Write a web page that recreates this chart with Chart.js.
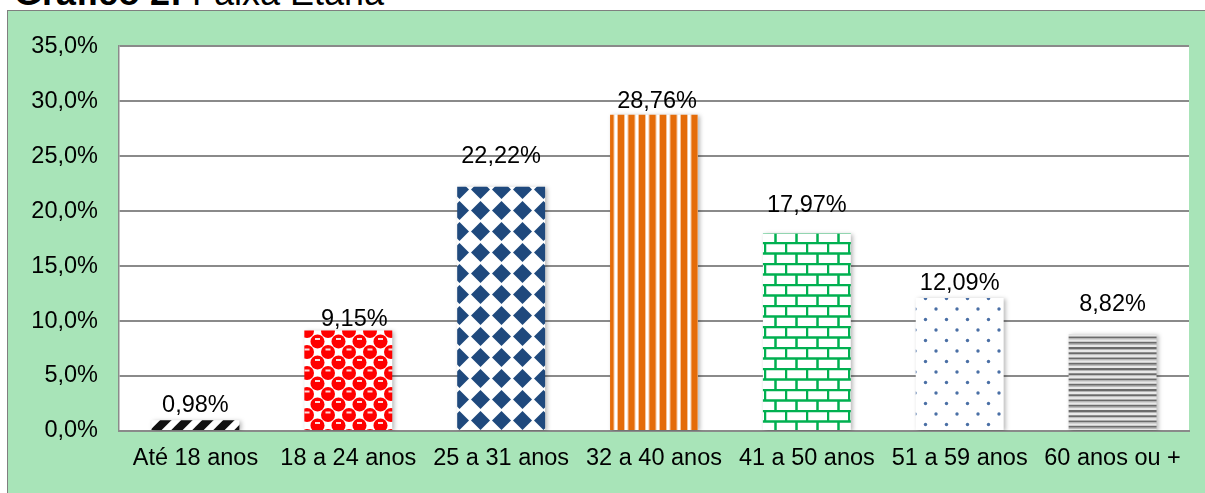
<!DOCTYPE html>
<html>
<head>
<meta charset="utf-8">
<script src="https://cdn.jsdelivr.net/npm/chart.js@4"></script>
<style>
  body { margin: 0; background: #fff; width: 1205px; height: 493px; overflow: hidden; position: relative; font-family: "Liberation Sans", Arial, sans-serif; }
  #title { position: absolute; left: 14px; top: -25px; font-size: 36px; line-height: 36px; color: #000; white-space: nowrap; }
  #title b { font-weight: bold; }
  #box { position: absolute; left: 7px; top: 10px; width: 1200px; height: 484px; background: #a8e4b8; border-left: 1px solid #7f7f7f; border-top: 1px solid #7f7f7f; }
  #chart { position: absolute; left: 0; top: 0; }
</style>
</head>
<body>
<div id="title"><b>Gráfico 2:</b> Faixa Etária</div>
<div id="box"><canvas id="chart" width="1198" height="483"></canvas></div>
<script>
// faixa etária (%)
const categories = ['Até 18 anos', '18 a 24 anos', '25 a 31 anos', '32 a 40 anos', '41 a 50 anos', '51 a 59 anos', '60 anos ou +'];
const values = [0.98, 9.15, 22.22, 28.76, 17.97, 12.09, 8.82];
const yTicks = [0, 5, 10, 15, 20, 25, 30, 35];

// little offscreen tiles for the excel-like fills
function tile(w, h, draw) {
    const c = document.createElement('canvas');
    c.width = w; c.height = h;
    const g = c.getContext('2d');
    g.fillStyle = '#fff';
    g.fillRect(0, 0, w, h);
    draw(g);
    return c;
}

function makePatterns(ctx) {
    const T = 21;
    const stripes = tile(T, T, g => {
        g.strokeStyle = '#111';
        g.lineWidth = 8;
        for (let k = -1; k <= 1; k++) {
            g.beginPath();
            g.moveTo(-5 + k * T, T + 5);
            g.lineTo(T + 5 + k * T, -5);
            g.stroke();
        }
    });
    const spheres = tile(T, T, g => {
        const pts = [];
        [[5, 5], [15.5, 15.5]].forEach(([x, y]) => {
            for (let i = -1; i <= 1; i++) for (let j = -1; j <= 1; j++) pts.push([x + i * T, y + j * T]);
        });
        pts.forEach(([x, y]) => {
            g.fillStyle = '#ff0000';
            g.beginPath(); g.arc(x, y, 7, 0, Math.PI * 2); g.fill();
        });
        pts.forEach(([x, y]) => {
            g.fillStyle = 'rgba(255,255,255,0.85)';
            g.fillRect(x - 2.5, y - 3.5, 5, 2);
        });
    });
    const diamonds = tile(T, T, g => {
        g.fillStyle = '#1f497d';
        g.beginPath();
        g.moveTo(10.5, 1); g.lineTo(20, 10.5); g.lineTo(10.5, 20); g.lineTo(1, 10.5);
        g.closePath(); g.fill();
    });
    const vlines = tile(T, 4, g => {
        g.fillStyle = '#f6c49a';
        g.fillRect(0, 0, 8, 4); g.fillRect(10.5, 0, 8, 4);
        g.fillStyle = '#e46c0a';
        g.fillRect(1, 0, 6, 4); g.fillRect(11.5, 0, 6, 4);
    });
    const brick = tile(T, T, g => {
        g.strokeStyle = '#00b050';
        g.lineWidth = 2.5;
        g.beginPath();
        g.moveTo(0, 1); g.lineTo(T, 1);
        g.moveTo(0, 11.5); g.lineTo(T, 11.5);
        g.moveTo(1, 1); g.lineTo(1, 11.5);
        g.moveTo(11.5, 11.5); g.lineTo(11.5, T + 1);
        g.stroke();
    });
    const dots = tile(T, T, g => {
        g.fillStyle = '#4a6fa5';
        [[4, 4], [14.5, 14.5]].forEach(([x, y]) => {
            g.beginPath(); g.arc(x, y, 1.7, 0, Math.PI * 2); g.fill();
        });
    });
    const hlines = tile(4, T, g => {
        for (let k = 0; k < 4; k++) {
            const y = k * 5.25;
            g.fillStyle = '#6b6b6b'; g.fillRect(0, y, 4, 2);
            g.fillStyle = '#b5b5b5'; g.fillRect(0, y + 2, 4, 1.2);
            g.fillStyle = '#e8e8e8'; g.fillRect(0, y + 3.2, 4, 2.05);
        }
    });
    return [stripes, spheres, diamonds, vlines, brick, dots, hlines].map(c => ctx.createPattern(c, 'repeat'));
}

const pct = (v, d) => v.toFixed(d).replace('.', ',') + '%';

const plotBg = {
    id: 'plotBg',
    beforeDraw(chart) {
        const { ctx, chartArea: a } = chart;
        ctx.save();
        ctx.fillStyle = '#fff';
        ctx.fillRect(a.left, a.top, a.right - a.left, a.bottom - a.top);
        ctx.restore();
    }
};

const barShadow = {
    id: 'barShadow',
    beforeDatasetsDraw(chart) {
        const ctx = chart.ctx;
        ctx.save();
        ctx.shadowColor = 'rgba(0,0,0,0.28)';
        ctx.shadowBlur = 4;
        ctx.shadowOffsetX = 2;
        ctx.shadowOffsetY = 1;
    },
    afterDatasetsDraw(chart) {
        chart.ctx.restore();
    }
};

const valueLabels = {
    id: 'valueLabels',
    afterDraw(chart, args, opts) {
        const ctx = chart.ctx;
        const meta = chart.getDatasetMeta(0);
        ctx.save();
        ctx.font = '23.5px "Liberation Sans", Arial, sans-serif';
        ctx.fillStyle = '#000';
        ctx.textAlign = 'center';
        ctx.textBaseline = 'middle';
        meta.data.forEach((bar, i) => {
            ctx.fillText(pct(values[i], 2), bar.x + (opts.dx[i] || 0), bar.y - opts.lift[i]);
        });
        ctx.restore();
    }
};

const canvas = document.getElementById('chart');
const ctx = canvas.getContext('2d');
const font = { family: '"Liberation Sans", Arial, sans-serif', size: 23.5 };

new Chart(ctx, {
    type: 'bar',
    data: {
        labels: categories,
        datasets: [{
            data: values,
            backgroundColor: makePatterns(ctx),
            borderWidth: 0,
            categoryPercentage: 1,
            barPercentage: 0.575
        }]
    },
    options: {
        responsive: false,
        animation: false,
        layout: { padding: { top: 35, right: 17, left: 0, bottom: 0 } },
        plugins: {
            legend: { display: false },
            tooltip: { enabled: false },
            valueLabels: {
                lift: [15, 11, 30, 13, 28, 15, 29],
                dx: [0, 6, 0, 3, 0, 0, 0]
            }
        },
        scales: {
            x: {
                grid: { display: false, drawTicks: false },
                border: { display: true, color: '#8a8a8a', width: 2 },
                ticks: { font, color: '#000', padding: 13, maxRotation: 0, autoSkip: false },
                afterFit(scale) { scale.height = 63; }
            },
            y: {
                min: 0,
                max: 35,
                afterBuildTicks(scale) { scale.ticks = yTicks.map(v => ({ value: v })); },
                grid: { color: '#8a8a8a', lineWidth: 2, drawTicks: false },
                border: { display: true, color: '#8a8a8a', width: 1.5 },
                ticks: { font, color: '#000', padding: 21, callback: v => pct(v, 1) },
                afterFit(scale) { scale.width = 111; }
            }
        }
    },
    plugins: [plotBg, barShadow, valueLabels]
});
</script>
</body>
</html>
